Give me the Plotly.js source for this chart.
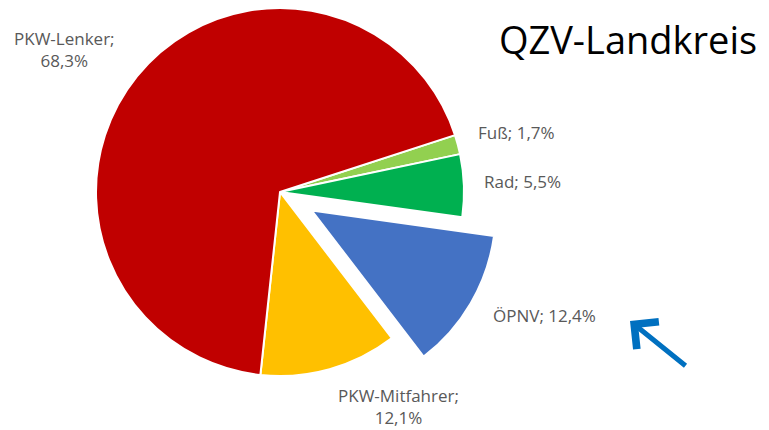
<!DOCTYPE html>
<html><head><meta charset="utf-8">
<script src="https://cdn.plot.ly/plotly-3.0.1.min.js"></script>
<style>
html,body{margin:0;padding:0;overflow:hidden;background:#fff;width:769px;height:430px;position:relative}
#chart{position:absolute;left:0;top:-40px;width:769px;height:470px}
</style>
</head><body><div id="chart"></div>
<script>
// ---- data ----
const labels = ['Fuß', 'Rad', 'ÖPNV', 'PKW-Mitfahrer', 'PKW-Lenker'];
const values = [1.7, 5.5, 12.4, 12.1, 68.3];
const titleText = 'QZV-Landkreis';

// ---- style ----
const colors = ['#92D050', '#00B050', '#4472C4', '#FFC000', '#C00000'];
const pulls = [0, 0, 0.2, 0, 0];
const labelBreak = [false, false, false, true, true];
const labelPos = [[516, 133], [522, 181], [544, 315], [398, 406], [64, 49]]; // px centers
const W = 769, H = 470, SHIFT = 40;
function fx(x) { return x / W; }
function fy(y) { return 1 - (y + SHIFT) / H; }
const cx = 280, cy = 192, r = 184, maxPull = Math.max(...pulls);
const half = r * (1 + maxPull);
const font = '"Open Sans", sans-serif';

function fmt(v) { return v.toFixed(1).replace('.', ',') + '%'; }

const annotations = labels.map((l, i) => ({
  text: l + ';' + (labelBreak[i] ? '<br>' : ' ') + fmt(values[i]),
  x: fx(labelPos[i][0]), y: fy(labelPos[i][1]),
  xref: 'paper', yref: 'paper', xanchor: 'center', yanchor: 'middle',
  showarrow: false, align: 'center',
  font: { family: font, size: 17, color: '#595959' }
}));

// blue arrow
annotations.push({
  x: fx(630), y: fy(321), xref: 'paper', yref: 'paper',
  ax: 57, ay: 46, axref: 'pixel', ayref: 'pixel',
  text: '', showarrow: true, arrowhead: 4, arrowsize: 1.35, arrowwidth: 5,
  arrowcolor: '#0070C0', standoff: 0
});

const trace = {
  type: 'pie', labels: labels, values: values, sort: false,
  direction: 'clockwise', rotation: 72, pull: pulls,
  marker: { colors: colors, line: { color: '#ffffff', width: 2 } },
  textinfo: 'none', hoverinfo: 'label+percent',
  domain: { x: [fx(cx - half), fx(cx + half)], y: [fy(cy + half), fy(cy - half)] }
};

const layout = {
  width: W, height: H, margin: { l: 0, r: 0, t: 0, b: 0 },
  paper_bgcolor: '#ffffff', showlegend: false,
  title: { text: titleText, x: fx(628), xanchor: 'center', y: fy(41), yanchor: 'middle',
           xref: 'paper', yref: 'paper',
           font: { family: font, size: 38, color: '#000000' } },
  annotations: annotations
};

Plotly.newPlot('chart', [trace], layout, { displayModeBar: false, staticPlot: true });
</script>
</body></html>
